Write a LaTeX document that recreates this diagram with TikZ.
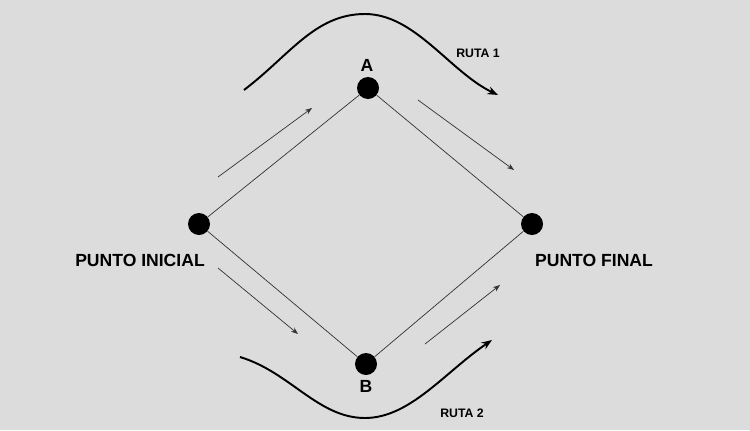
\documentclass[tikz,border=0pt]{standalone}
\usepackage{fontspec}
\setmainfont{Liberation Sans}
\usetikzlibrary{arrows.meta}
\begin{document}
\begin{tikzpicture}[x=0.02cm,y=-0.02cm,
  dot/.style={circle,fill=black,minimum size=22*0.02cm,inner sep=0pt},
  lbl/.style={font=\bfseries\fontsize{10}{12}\selectfont},
  rlbl/.style={font=\bfseries\fontsize{7}{8}\selectfont},
  edge/.style={draw=black!80,line width=0.4pt},
  flow/.style={draw=black!80,line width=0.4pt,-{Stealth[length=4pt,width=3pt]}},
  route/.style={draw=black,line width=1.1pt,-{Stealth[length=6pt,width=4.5pt]}}]
\useasboundingbox (0,0) rectangle (750,430);
\fill[fill={rgb,255:red,220;green,220;blue,220}] (0,0) rectangle (750,430);
\node[dot] (S) at (199,224) {};
\node[dot] (A) at (368,88) {};
\node[dot] (E) at (532,224) {};
\node[dot] (B) at (366,364) {};
\node[lbl] (la) at (367,65) {A};
\node[lbl] (lb) at (366,386) {B};
\node[lbl] (ls) at (140,260) {PUNTO INICIAL};
\node[lbl] (le) at (594,260) {PUNTO FINAL};
\node[rlbl] (r1) at (478,53) {RUTA 1};
\node[rlbl] (r2) at (462,413) {RUTA 2};
\draw[edge] (S) -- (A) -- (E) -- (B) -- (S);
\coordinate (f1a) at (218,177); \coordinate (f1b) at (312,108);
\coordinate (f2a) at (418,100); \coordinate (f2b) at (514,170);
\coordinate (f3a) at (218,268); \coordinate (f3b) at (298,334);
\coordinate (f4a) at (425,344); \coordinate (f4b) at (500,285);
\draw[flow] (f1a) -- (f1b);
\draw[flow] (f2a) -- (f2b);
\draw[flow] (f3a) -- (f3b);
\draw[flow] (f4a) -- (f4b);
\coordinate (c1a) at (244,90); \coordinate (c1m) at (365,14); \coordinate (c1b) at (498,95);
\coordinate (c2a) at (240,357); \coordinate (c2m) at (365,418); \coordinate (c2b) at (492,340);
\draw[route] (c1a) .. controls (290,55) and (315,14) .. (c1m) .. controls (415,14) and (450,72) .. (c1b);
\draw[route] (c2a) .. controls (290,372) and (318,418) .. (c2m) .. controls (410,418) and (445,372) .. (c2b);
\end{tikzpicture}
\end{document}
